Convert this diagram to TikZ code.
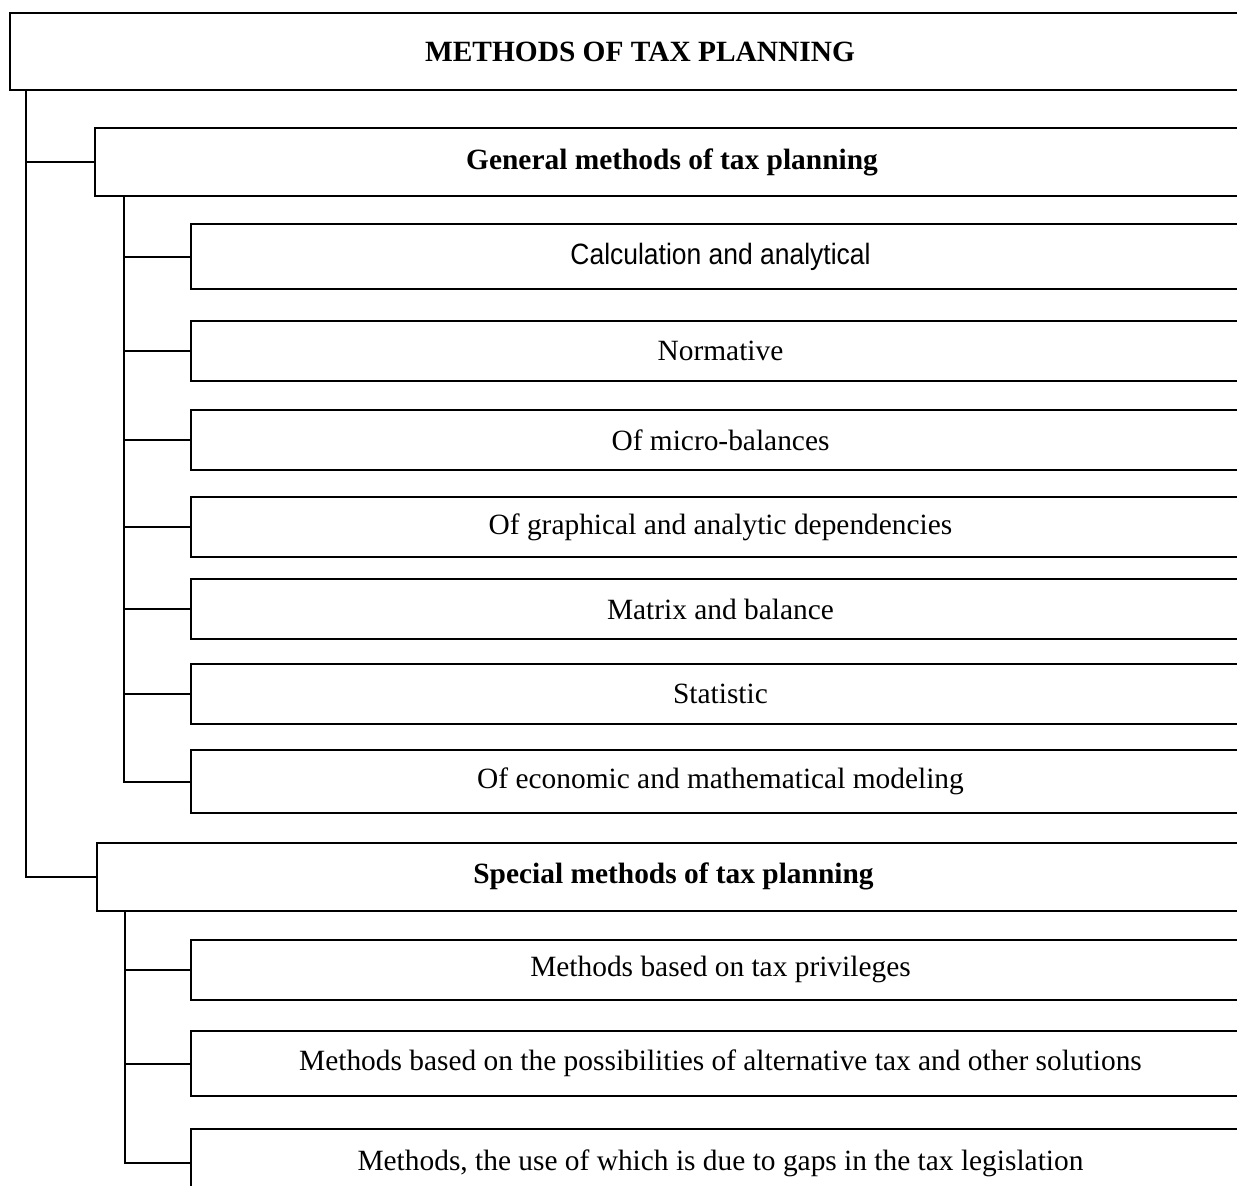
\documentclass[tikz,border=0pt]{standalone}
\usepackage{fontspec}
\setmainfont{Liberation Serif}
\newfontfamily\narrowsans[FakeStretch=0.9]{Liberation Sans}
\usetikzlibrary{positioning}

\begin{document}
\begin{tikzpicture}[
    x=0.5pt, y=-0.5pt,
    % Estilos de cajas y enlaces
    base/.style = {draw=black, line width=1pt, rectangle, align=center, inner sep=0pt, font=\fontsize{14.7}{18}\selectfont},
    titulo/.style = {base, line width=1.4pt, minimum width=630pt, minimum height=38.5pt, font=\fontsize{14.7}{18}\selectfont\bfseries},
    grupo/.style = {base, minimum width=577pt, minimum height=34pt, font=\fontsize{14.7}{18}\selectfont\bfseries},
    metodo/.style = {base, minimum width=529.5pt, minimum height=30pt},
    enlace/.style = {line width=1pt}
]
\clip (0,0) rectangle (1237,1185);

% ===============================
% 1. Cabecera y grupos
% ===============================
\node (top) [titulo] at (640,51.5) {METHODS OF TAX PLANNING};
\node (general) [grupo] at (672,162) {General methods of tax planning};
\node (special) [grupo] at (673.5,876.5) {Special methods of tax planning};

% ===============================
% 2. Métodos generales
% ===============================
\node (calc) [metodo, minimum height=32.5pt, font=\fontsize{14.7}{18}\narrowsans] at (720.5,256.5) {Calculation and analytical};
\node (norm) [metodo] at (720.5,351) {Normative};
\node (micro) [metodo] at (720.5,440) {Of micro-balances};
\node (graf) [metodo] at (720.5,527) {Of graphical and analytic dependencies};
\node (matriz) [metodo] at (720.5,609) {Matrix and balance};
\node (estad) [metodo] at (720.5,693.5) {Statistic};
\node (econ) [metodo, minimum height=31.5pt] at (720.5,781.5) {Of economic and mathematical modeling};

% ===============================
% 3. Métodos especiales
% ===============================
\node (priv) [metodo] at (720.5,969.5) {Methods based on tax privileges};
\node (alt) [metodo, minimum height=32.5pt] at (720.5,1063.5) {Methods based on the possibilities of alternative tax and other solutions};
\node (gaps) [metodo, minimum height=34pt] at (720.5,1163) {Methods, the use of which is due to gaps in the tax legislation};

% ===============================
% 4. Enlaces
% ===============================
\draw [enlace] ([xshift=8.5pt]top.south west) |- (general.west);
\draw [enlace] ([xshift=8.5pt]top.south west) |- (special.west);

\draw [enlace] ([xshift=15pt]general.south west) |- (calc.west);
\draw [enlace] ([xshift=15pt]general.south west) |- (norm.west);
\draw [enlace] ([xshift=15pt]general.south west) |- (micro.west);
\draw [enlace] ([xshift=15pt]general.south west) |- (graf.west);
\draw [enlace] ([xshift=15pt]general.south west) |- (matriz.west);
\draw [enlace] ([xshift=15pt]general.south west) |- (estad.west);
\draw [enlace] ([xshift=15pt]general.south west) |- (econ.west);

\draw [enlace] ([xshift=14.5pt]special.south west) |- (priv.west);
\draw [enlace] ([xshift=14.5pt]special.south west) |- (alt.west);
\draw [enlace] ([xshift=14.5pt]special.south west) |- (gaps.west);

\end{tikzpicture}
\end{document}
